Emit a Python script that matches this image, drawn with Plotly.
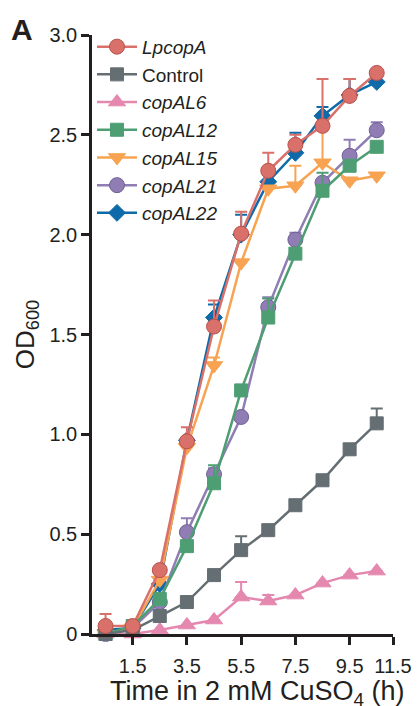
import plotly.graph_objects as go

# ---- data ----
time_h = [0.5, 1.5, 2.5, 3.5, 4.5, 5.5, 6.5, 7.5, 8.5, 9.5, 10.5]

lpcopa = [0.04, 0.04, 0.32, 0.965, 1.54, 2.005, 2.32, 2.45, 2.545, 2.695, 2.81]
lpcopa_err = [0.06, None, None, 0.07, 0.13, 0.11, 0.09, 0.05, 0.235, 0.085, None]

control = [0.0, 0.02, 0.09, 0.16, 0.295, 0.42, 0.52, 0.645, 0.77, 0.925, 1.055]
control_err = [None, None, None, None, None, 0.07, None, None, None, None, 0.075]

copal6 = [0.0, 0.0, 0.02, 0.045, 0.07, 0.185, 0.165, 0.195, 0.255, 0.295, 0.315]
copal6_err = [None, None, None, None, None, 0.075, 0.03, None, None, None, None]

copal12 = [0.0, 0.04, 0.175, 0.44, 0.755, 1.22, 1.585, 1.905, 2.22, 2.345, 2.44]
copal12_err = [None, None, None, None, 0.09, None, 0.095, None, 0.09, None, None]

copal15 = [0.0, 0.03, 0.27, 0.935, 1.345, 1.86, 2.23, 2.245, 2.36, 2.27, 2.295]
copal15_err = [None, None, None, None, 0.04, None, None, 0.10, 0.17, None, None]

copal21 = [0.0, 0.03, 0.16, 0.51, 0.80, 1.087, 1.637, 1.975, 2.26, 2.395, 2.523]
copal21_err = [None, None, None, 0.07, 0.03, None, 0.05, 0.035, None, 0.08, 0.04]

copal22 = [0.02, 0.03, 0.25, 0.97, 1.585, 2.0, 2.265, 2.41, 2.595, 2.70, 2.765]
copal22_err = [None, None, None, None, 0.065, 0.10, None, 0.10, 0.045, 0.08, None]

x_tick_text = ["1.5", "3.5", "5.5", "7.5", "9.5", "11.5"]
x_tick_vals = [1.5, 3.5, 5.5, 7.5, 9.5, 11.1]
y_tick_vals = [0, 0.5, 1.0, 1.5, 2.0, 2.5, 3.0]
y_tick_text = ["0", "0.5", "1.0", "1.5", "2.0", "2.5", "3.0"]

FONT = "Liberation Sans, Arial, Helvetica, sans-serif"
AXIS = "#231F20"

# (name, y, err, line colour, marker symbol, marker size, marker edge colour, legend rank)
series = [
    ("<i>copAL22</i>", copal22, copal22_err, "#0E6AA8", "diamond", 13, "#0E6AA8", 7),
    ("<i>copAL21</i>", copal21, copal21_err, "#8F7DB3", "circle", 15, "#6F5F96", 6),
    ("<i>copAL15</i>", copal15, copal15_err, "#F7A352", "triangle-down", 15, "#F7A352", 5),
    ("<i>copAL12</i>", copal12, copal12_err, "#4E9E73", "square", 13, "#4E9E73", 4),
    ("<i>copAL6</i>", copal6, copal6_err, "#E588B0", "triangle-up", 15, "#E588B0", 3),
    ("Control", control, control_err, "#646E73", "square", 13, "#646E73", 2),
    ("<i>LpcopA</i>", lpcopa, lpcopa_err, "#D9706A", "circle", 15, "#B9514B", 1),
]

fig = go.Figure()
for name, y, err, col, sym, size, edge, rank in series:
    fig.add_trace(go.Scatter(
        x=time_h, y=y, name=name, mode="lines+markers",
        line=dict(color=col, width=2.5),
        marker=dict(symbol=sym, size=size, color=col, line=dict(color=edge, width=1)),
        error_y=dict(type="data", array=err, arrayminus=[0] * len(err), symmetric=False,
                     color=col, thickness=2, width=6),
        cliponaxis=False,
        legendrank=rank,
    ))

# the page body adds an 8 px offset, so the figure is 8 px smaller and margins shifted
fig.update_layout(
    width=412, height=698,
    margin=dict(l=84, r=27, t=27, b=72),
    paper_bgcolor="white", plot_bgcolor="white",
    font=dict(family=FONT, color=AXIS),
    showlegend=True,
    legend=dict(x=0.0, y=1.012, xanchor="left", yanchor="top",
                bgcolor="rgba(0,0,0,0)", font=dict(size=19, color=AXIS),
                tracegroupgap=0, itemwidth=40),
    xaxis=dict(range=[0, 11.1], showline=True, linecolor=AXIS, linewidth=2.5,
               ticks="outside", ticklen=8, tickwidth=2.5, tickcolor=AXIS,
               tickvals=x_tick_vals, ticktext=x_tick_text, showgrid=False, zeroline=False,
               tickfont=dict(size=20), automargin=False, ticklabelstandoff=4),
    yaxis=dict(range=[0, 3.0], showline=True, linecolor=AXIS, linewidth=2.5,
               ticks="outside", ticklen=8, tickwidth=2.5, tickcolor=AXIS,
               tickvals=y_tick_vals, ticktext=y_tick_text, showgrid=False, zeroline=False,
               tickfont=dict(size=20), automargin=False,
               title=dict(text="OD<sub>600</sub>", font=dict(size=26), standoff=8)),
    annotations=[
        dict(text="<b>A</b>", xref="paper", yref="paper", x=-0.275, y=1.04,
             xanchor="left", yanchor="top", showarrow=False,
             font=dict(size=30, color=AXIS)),
        dict(text="Time in 2 mM CuSO<sub>4</sub> (h)", xref="paper", yref="paper",
             x=0.55, y=-0.099, xanchor="center", yanchor="middle", showarrow=False,
             font=dict(size=27, color=AXIS)),
    ],
)

fig.write_html("out.html")
